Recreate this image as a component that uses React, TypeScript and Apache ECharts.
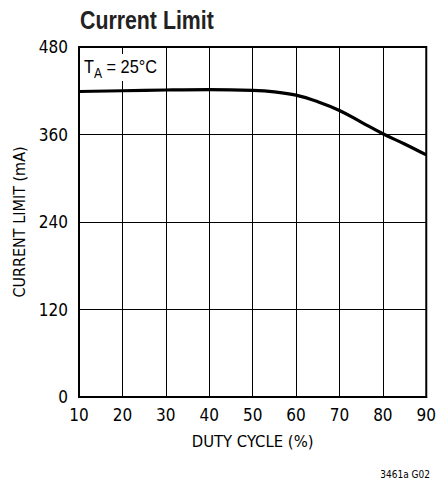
import React, { useEffect, useRef } from "react";
import * as echarts from "echarts";

const dutyCycle = [10, 20, 30, 40, 50, 55, 60, 65, 70, 75, 80, 85, 90];
const currentLimit = [419, 420, 421, 421.5, 420.5, 418.5, 414, 405, 393, 377, 361, 347, 332];
const xTicks = { min: 10, max: 90, interval: 10 };
const yTicks = { min: 0, max: 480, interval: 120 };

const FONT = "'Liberation Sans Narrow', 'DejaVu Sans Condensed', 'Liberation Sans', Arial, sans-serif";
const WIDE = "'Liberation Sans', Arial, sans-serif";

export default function App() {
  const ref = useRef<HTMLDivElement>(null);
  useEffect(() => {
    if (!ref.current) return;
    const chart = echarts.init(ref.current, null, { renderer: "svg" });
    chart.setOption({
      animation: false,
      backgroundColor: "#fff",
      textStyle: { fontFamily: FONT, color: "#000" },
      grid: {
        left: 79,
        right: 9,
        top: 47,
        bottom: 86,
        show: true,
        borderColor: "#000",
        borderWidth: 2,
        backgroundColor: "transparent",
      },
      xAxis: {
        type: "value",
        min: xTicks.min,
        max: xTicks.max,
        interval: xTicks.interval,
        name: "DUTY CYCLE (%)",
        nameLocation: "middle",
        nameGap: 36,
        nameTextStyle: { fontFamily: FONT, fontSize: 16.5, color: "#000" },
        axisLine: { show: true, lineStyle: { color: "#000", width: 2 } },
        axisTick: { show: false },
        splitLine: { show: true, lineStyle: { color: "#000", width: 1 } },
        axisLabel: { fontFamily: FONT, fontSize: 17, color: "#000", margin: 9 },
      },
      yAxis: {
        type: "value",
        min: yTicks.min,
        max: yTicks.max,
        interval: yTicks.interval,
        name: "CURRENT LIMIT (mA)",
        nameLocation: "middle",
        nameGap: 45,
        nameTextStyle: { fontFamily: FONT, fontSize: 16, color: "#000" },
        axisLine: { show: true, lineStyle: { color: "#000", width: 2 } },
        axisTick: { show: false },
        splitLine: { show: true, lineStyle: { color: "#000", width: 1 } },
        axisLabel: { fontFamily: FONT, fontSize: 17, color: "#000", margin: 11 },
      },
      series: [
        {
          type: "line",
          data: dutyCycle.map((d, i) => [d, currentLimit[i]]),
          smooth: 0.4,
          showSymbol: false,
          lineStyle: { color: "#000", width: 3.2 },
        },
      ],
      graphic: [
        {
          type: "text",
          x: 80,
          y: 19.5,
          scaleX: 0.82,
          z: 100,
          style: {
            text: "Current Limit",
            fontFamily: WIDE,
            fontWeight: "bold",
            fontSize: 26,
            fill: "#222",
            align: "left",
            verticalAlign: "middle",
          },
        },
        {
          type: "rect",
          z: 100,
          shape: { x: 80, y: 54, width: 82, height: 27 },
          style: { fill: "#fff" },
        },
        {
          type: "text",
          x: 84,
          y: 67,
          scaleX: 0.86,
          z: 101,
          style: {
            text: "T{sub|A} = 25°C",
            fontFamily: WIDE,
            fontSize: 19,
            fill: "#000",
            align: "left",
            verticalAlign: "middle",
            rich: {
              sub: { fontFamily: WIDE, fontSize: 14, fill: "#000", padding: [12, 0, 0, 0] },
            },
          },
        },
        {
          type: "text",
          right: 9,
          top: 469,
          style: { text: "3461a G02", fontFamily: FONT, fontSize: 10, fill: "#000" },
        },
      ],
    });
    return () => chart.dispose();
  }, []);
  return (
    <div
      ref={ref}
      style={{ position: "fixed", left: 0, top: 0, width: 439, height: 483, background: "#fff" }}
    />
  );
}
